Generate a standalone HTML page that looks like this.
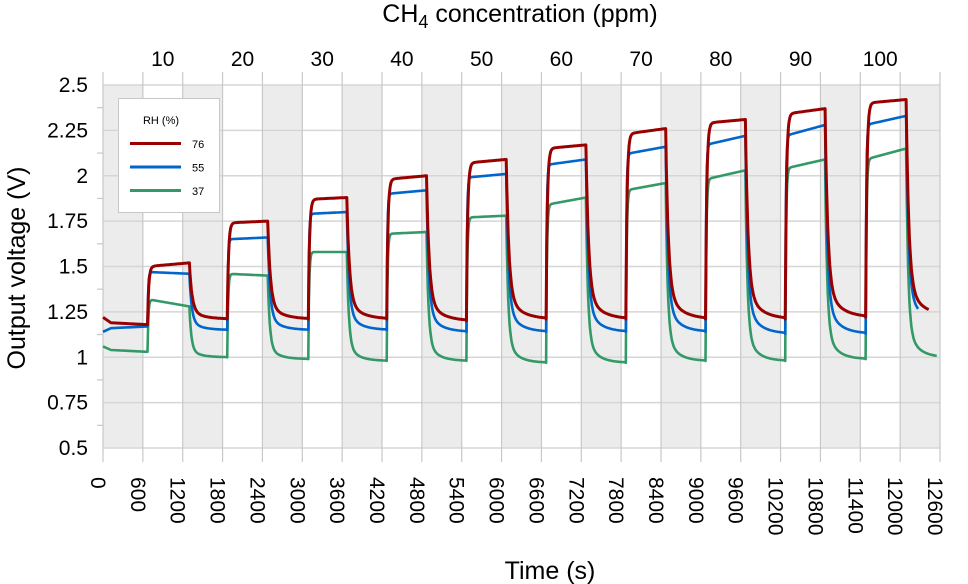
<!DOCTYPE html>
<html><head><meta charset="utf-8"><style>
html,body{margin:0;padding:0;background:#fff;}
svg{display:block;font-family:"Liberation Sans","DejaVu Sans",sans-serif;}
</style></head><body>
<svg id="chart" width="968" height="584" viewBox="0 0 968 584" xmlns="http://www.w3.org/2000/svg">
<g id="bands"></g>
<g id="grid"></g>
<g id="series"></g>
<g id="axes"></g>
<text x="520" y="22" font-size="25" text-anchor="middle" fill="#000">CH<tspan font-size="18" dy="6">4</tspan><tspan dy="-6"> concentration (ppm)</tspan></text>
<text x="550" y="579" font-size="25" text-anchor="middle" fill="#000">Time (s)</text>
<text transform="translate(25,268) rotate(-90)" font-size="25" text-anchor="middle" fill="#000">Output voltage (V)</text>
<g>
<rect x="118.5" y="98.5" width="101" height="114" fill="#fff" stroke="#c8c8c8"/>
<text x="161" y="124" font-size="11" text-anchor="middle">RH (%)</text>
<g><line x1="130" y1="143.5" x2="181" y2="143.5" stroke="#990000" stroke-width="3"/><text x="192" y="148" font-size="11">76</text></g>
<g><line x1="130" y1="167" x2="181" y2="167" stroke="#0066cc" stroke-width="3"/><text x="192" y="171.5" font-size="11">55</text></g>
<g><line x1="130" y1="190.5" x2="181" y2="190.5" stroke="#339966" stroke-width="3"/><text x="192" y="195" font-size="11">37</text></g>
</g>
</svg>
<script>
// ---- data ----
const concentrations = [10,20,30,40,50,60,70,80,90,100];
const yTicks = [0.5,0.75,1,1.25,1.5,1.75,2,2.25,2.5];
const yTickLabels = ["0.5","0.75","1","1.25","1.5","1.75","2","2.25","2.5"];
const xTicks = [0,600,1200,1800,2400,3000,3600,4200,4800,5400,6000,6600,7200,7800,8400,9000,9600,10200,10800,11400,12000,12600];
const onStarts = [670,1870,3090,4270,5470,6670,7870,9070,10270,11480];
const onEnds = [1300,2480,3670,4870,6070,7270,8470,9670,10870,12090];
// RH 76
const red0 = [1.22,1.19,1.18];
const redOnStart = [1.50,1.74,1.87,1.98,2.07,2.15,2.23,2.29,2.34,2.40];
const redOnEnd = [1.52,1.75,1.88,2.00,2.09,2.17,2.26,2.31,2.37,2.42];
const redBase = [1.21,1.21,1.21,1.20,1.21,1.21,1.21,1.21,1.22,1.23];
const redEnd = 12430;
// RH 55
const blue0 = [1.14,1.16,1.17];
const blueOnStart = [1.47,1.65,1.79,1.90,1.99,2.06,2.12,2.17,2.22,2.28];
const blueOnEnd = [1.46,1.66,1.80,1.92,2.01,2.09,2.16,2.22,2.28,2.33];
const blueBase = [1.15,1.15,1.15,1.14,1.14,1.14,1.14,1.13,1.13,1.20];
const blueEnd = 12270;
// RH 37
const green0 = [1.06,1.04,1.03];
const greenOnStart = [1.32,1.46,1.58,1.68,1.77,1.84,1.92,1.98,2.04,2.09];
const greenOnEnd = [1.28,1.45,1.58,1.69,1.78,1.88,1.96,2.03,2.09,2.15];
const greenBase = [1.00,0.99,0.98,0.98,0.97,0.97,0.98,0.98,0.99,1.00];
const greenEnd = 12550;

// ---- axes ----
const L=103,R=940,T=85,B=448, XMAX=12600, YMIN=0.5, YMAX=2.5;
const X = t => L + (t/XMAX)*(R-L);
const Y = v => B - (v-YMIN)/(YMAX-YMIN)*(B-T);
const NS="http://www.w3.org/2000/svg";
function mk(tag, attrs, parent){const e=document.createElementNS(NS,tag);for(const k in attrs)e.setAttribute(k,attrs[k]);parent.appendChild(e);return e;}

const bands=document.getElementById('bands');
for(let t=0;t<XMAX;t+=1200){
  const r=mk('rect',{x:X(t),y:T,width:X(t+600)-X(t),height:B-T,fill:'#ececec'},bands);
  
  
}
const grid=document.getElementById('grid');
yTicks.forEach(v=>{
  const l=mk('line',{x1:L,x2:R,y1:Y(v),y2:Y(v),stroke:'#d6d6d6','stroke-width':1.5},grid);
  
  
});
xTicks.forEach(t=>{
  const l=mk('line',{x1:X(t),x2:X(t),y1:72,y2:462,stroke:'#c8c8c8','stroke-width':1.2},grid);
  
  
});
const axes=document.getElementById('axes');
yTicks.forEach((v,i)=>{
  const tx=mk('text',{x:88,y:Y(v)+7,'font-size':21,'text-anchor':'end',fill:'#000'},axes);
  tx.textContent=yTickLabels[i];
  
  
  if(i<yTicks.length-1){
    const m=mk('line',{x1:L-6,x2:L,y1:Y(v+0.125),y2:Y(v+0.125),stroke:'#c8c8c8','stroke-width':1.2},axes);
    
    
  }
});
xTicks.forEach(t=>{
  const tx=mk('text',{transform:`translate(${X(t)-12},477) rotate(90)`,'font-size':21,fill:'#000'},axes);
  tx.textContent=String(t);
  
  
});
concentrations.forEach((c,i)=>{
  const tx=mk('text',{x:X(600+1200*i+300),y:66,'font-size':21,'text-anchor':'middle',fill:'#000'},axes);
  tx.textContent=String(c);
  
  
});

// ---- series ----
function buildPath(init, onS, onE, base, tEnd, tauUp, tauDn){
  const pts=[];
  pts.push([0,init[0]]);
  pts.push([120,init[1]]);
  pts.push([onStarts[0],init[2]]);
  let prevBase=init[2];
  for(let i=0;i<onStarts.length;i++){
    const s=onStarts[i], e=Math.min(onEnds[i],tEnd);
    for(let t=s;t<=e;t+=10){
      const f=1-Math.exp(-(t-s)/tauUp);
      const plateau=onS[i]+(onE[i]-onS[i])*(t-s)/(e-s);
      pts.push([t,prevBase+(plateau-prevBase)*f]);
    }
    const stop=(i+1<onStarts.length)?onStarts[i+1]:tEnd;
    const top=onE[i];
    for(let t=e;t<=stop;t+=10){
      const f=0.85*Math.exp(-(t-e)/tauDn)+0.15*Math.exp(-(t-e)/(tauDn*5));
      pts.push([t,base[i]+(top-base[i])*f]);
    }
    prevBase=base[i];
  }
  return pts.map((p,k)=>(k?'L':'M')+X(p[0]).toFixed(1)+','+Y(p[1]).toFixed(1)).join(' ');
}
const series=document.getElementById('series');
const g=mk('path',{d:buildPath(green0,greenOnStart,greenOnEnd,greenBase,greenEnd,12,30),fill:'none',stroke:'#339966','stroke-width':2.6,'stroke-linejoin':'round'},series);


const b=mk('path',{d:buildPath(blue0,blueOnStart,blueOnEnd,blueBase,blueEnd,10,35),fill:'none',stroke:'#0066cc','stroke-width':2.6,'stroke-linejoin':'round'},series);


const r=mk('path',{d:buildPath(red0,redOnStart,redOnEnd,redBase,redEnd,18,40),fill:'none',stroke:'#990000','stroke-width':3,'stroke-linejoin':'round'},series);


</script>
</body></html>
